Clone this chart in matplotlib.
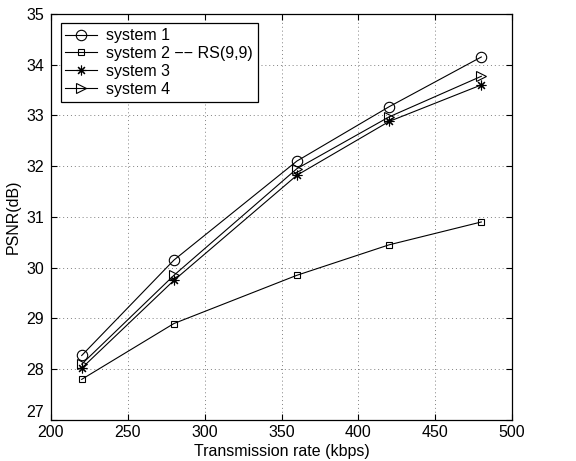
import matplotlib
matplotlib.use("Agg")
import matplotlib.pyplot as plt

plt.rcParams["font.family"] = ["Liberation Sans", "DejaVu Sans"]

rate = [220, 280, 360, 420, 480]
psnr_sys1 = [28.27, 30.15, 32.10, 33.17, 34.15]
psnr_sys2 = [27.80, 28.90, 29.85, 30.45, 30.90]
psnr_sys3 = [28.02, 29.75, 31.82, 32.88, 33.60]
psnr_sys4 = [28.10, 29.85, 31.95, 32.97, 33.77]

labels = ["system 1", "system 2 \u2212\u2212 RS(9,9)", "system 3", "system 4"]

fig = plt.figure(figsize=(5.76, 4.61), dpi=100)
ax = fig.add_axes([0.0885, 0.089, 0.8005, 0.881])

style = dict(color="black", lw=0.8, mfc="none", mew=0.8)
ax.plot(rate, psnr_sys1, marker="o", ms=7.5, label=labels[0], **style)
ax.plot(rate, psnr_sys2, marker="s", ms=4.5, label=labels[1], **style)
ax.plot(rate, psnr_sys3, marker=(8, 2, 0), ms=7, label=labels[2], **style)
ax.plot(rate, psnr_sys4, marker=">", ms=7.5, label=labels[3], **style)

ax.set_xlim(200, 500)
ax.set_ylim(27, 35)
ax.set_xticks(range(200, 501, 50))
ax.set_yticks(range(27, 36))
ax.grid(True, linestyle=(0, (1, 3)), color="gray", lw=0.7)
ax.tick_params(direction="in", top=True, right=True, labelsize=11.5, length=4)
ax.tick_params(axis="y", pad=5)
ax.yaxis.get_major_ticks()[0].label1.set_va("bottom")
for s in ax.spines.values():
    s.set_linewidth(0.9)

ax.set_xlabel("Transmission rate (kbps)", fontsize=11.5, labelpad=3)
ax.set_ylabel("PSNR(dB)", fontsize=11.5, labelpad=4)

leg = ax.legend(loc="upper left", fontsize=11.5, fancybox=False, framealpha=1,
                edgecolor="black", borderaxespad=0.6, handlelength=2.0,
                labelspacing=0.18, borderpad=0.3, handletextpad=0.55)
leg.get_frame().set_linewidth(0.9)

fig.savefig("out.png", dpi=100)
